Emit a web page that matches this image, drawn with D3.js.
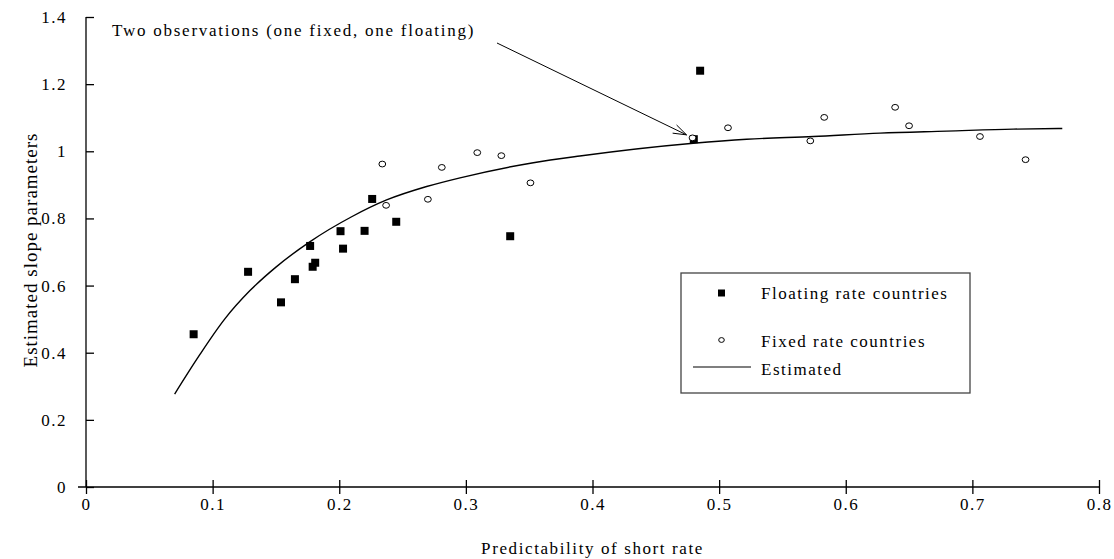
<!DOCTYPE html>
<html>
<head>
<meta charset="utf-8">
<script src="https://cdn.jsdelivr.net/npm/d3@7"></script>
<style>
  html, body { margin: 0; padding: 0; background: #fff; overflow: hidden; }
  svg { display: block; }
  svg text { font-family: "Liberation Serif", "Times New Roman", serif; fill: #000; }
</style>
</head>
<body>
<div id="chart"></div>
<script>
// Données
const floatingX = [0.085, 0.128, 0.154, 0.165, 0.179, 0.181, 0.177, 0.201, 0.203, 0.220, 0.226, 0.245, 0.335, 0.480, 0.485];
const floatingY = [0.455, 0.641, 0.550, 0.619, 0.656, 0.668, 0.718, 0.762, 0.710, 0.763, 0.858, 0.790, 0.747, 1.036, 1.240];

const fixedX = [0.234, 0.237, 0.270, 0.281, 0.309, 0.328, 0.351, 0.479, 0.507, 0.572, 0.583, 0.639, 0.650, 0.706, 0.742];
const fixedY = [0.962, 0.839, 0.857, 0.952, 0.996, 0.987, 0.906, 1.040, 1.070, 1.031, 1.101, 1.131, 1.076, 1.044, 0.975];

const estX = [0.070, 0.090, 0.1095, 0.1295, 0.150, 0.177, 0.2098, 0.2374, 0.269, 0.2954, 0.3533, 0.390, 0.4796, 0.5217, 0.5744, 0.627, 0.6797, 0.7323, 0.771];
const estY = [0.277, 0.395, 0.500, 0.585, 0.655, 0.731, 0.805, 0.855, 0.895, 0.921, 0.966, 0.986, 1.024, 1.036, 1.044, 1.054, 1.060, 1.066, 1.068];

const xTicks = [0, 0.1, 0.2, 0.3, 0.4, 0.5, 0.6, 0.7, 0.8];
const yTicks = [0, 0.2, 0.4, 0.6, 0.8, 1, 1.2, 1.4];

const legendLabels = ['Floating rate countries', 'Fixed rate countries', 'Estimated'];
const annotationText = 'Two observations (one fixed, one floating)';
const annotationTarget = [0.479, 1.040];

const width = 1114;
const height = 559;
const margin = { top: 17, right: 15, bottom: 72, left: 86 };
const innerWidth = width - margin.left - margin.right;
const innerHeight = height - margin.top - margin.bottom;

const svg = d3.select('#chart')
    .append('svg')
    .attr('width', width)
    .attr('height', height);

const g = svg.append('g')
    .attr('transform', `translate(${margin.left},${margin.top})`);

// Échelles
const xScale = d3.scaleLinear().domain([0, 0.8]).range([0, innerWidth]);
const yScale = d3.scaleLinear().domain([0, 1.4]).range([innerHeight, 0]);

// Axes (ticks qui traversent l'axe)
const xAxis = d3.axisBottom(xScale)
    .tickValues(xTicks)
    .tickSize(7)
    .tickPadding(4)
    .tickFormat(d => d === 0 ? '0' : d3.format('.1f')(d));

const yAxis = d3.axisLeft(yScale)
    .tickValues(yTicks)
    .tickSize(8)
    .tickPadding(11)
    .tickFormat(d => (d === 0 || d === 1) ? String(d) : d3.format('.1f')(d));

const gx = g.append('g')
    .attr('transform', `translate(0,${innerHeight})`)
    .call(xAxis);
gx.selectAll('.tick line').attr('y1', -7);
gx.select('.domain').attr('d', `M${-8},0H${innerWidth}`);

const gy = g.append('g').call(yAxis);
gy.selectAll('.tick line').attr('x2', 8);
gy.select('.domain').attr('d', `M0,0V${innerHeight}`);

g.selectAll('.domain, .tick line')
    .style('stroke', '#000')
    .style('stroke-width', 1.3);

g.selectAll('.tick text')
    .style('font-size', '17px')
    .style('letter-spacing', '1.5px')
    .style('font-family', '"Liberation Serif", serif');

// Titres des axes
svg.append('text')
    .attr('x', margin.left + innerWidth / 2)
    .attr('y', 554)
    .attr('text-anchor', 'middle')
    .style('font-size', '17px')
    .style('letter-spacing', '1.6px')
    .text('Predictability of short rate');

svg.append('text')
    .attr('transform', `translate(30,250) rotate(-90)`)
    .attr('text-anchor', 'middle')
    .attr('dy', '0.35em')
    .style('font-size', '19px')
    .style('letter-spacing', '1px')
    .text('Estimated slope parameters');

// Courbe estimée
const estData = estX.map((x, i) => ({ x, y: estY[i] }));
const line = d3.line()
    .x(d => xScale(d.x))
    .y(d => yScale(d.y))
    .curve(d3.curveMonotoneX);

g.append('path')
    .datum(estData)
    .attr('d', line)
    .attr('fill', 'none')
    .attr('stroke', '#000')
    .attr('stroke-width', 1.4);

// Points flottants (carrés noirs)
const floatingData = floatingX.map((x, i) => ({ x, y: floatingY[i] }));
g.selectAll('.floating')
    .data(floatingData)
    .enter()
    .append('rect')
    .attr('class', 'floating')
    .attr('x', d => xScale(d.x) - 4)
    .attr('y', d => yScale(d.y) - 4)
    .attr('width', 8)
    .attr('height', 8)
    .attr('fill', '#000');

// Points fixes (cercles vides)
const fixedData = fixedX.map((x, i) => ({ x, y: fixedY[i] }));
g.selectAll('.fixed')
    .data(fixedData)
    .enter()
    .append('ellipse')
    .attr('class', 'fixed')
    .attr('cx', d => xScale(d.x))
    .attr('cy', d => yScale(d.y))
    .attr('rx', 3.4)
    .attr('ry', 2.9)
    .attr('fill', '#fff')
    .attr('stroke', '#000')
    .attr('stroke-width', 1);

// Annotation avec flèche
svg.append('text')
    .attr('x', 112)
    .attr('y', 36)
    .style('font-size', '17px')
    .style('letter-spacing', '1.75px')
    .text(annotationText);

const ax0 = 497, ay0 = 43;
const ax1 = margin.left + xScale(annotationTarget[0]) - 6;
const ay1 = margin.top + yScale(annotationTarget[1]) - 3;
svg.append('line')
    .attr('x1', ax0).attr('y1', ay0)
    .attr('x2', ax1).attr('y2', ay1)
    .attr('stroke', '#000')
    .attr('stroke-width', 1);

const ang = Math.atan2(ay1 - ay0, ax1 - ax0);
const headLen = 14, headAng = 0.33;
svg.append('path')
    .attr('d', `M${ax1 - headLen * Math.cos(ang - headAng)},${ay1 - headLen * Math.sin(ang - headAng)}L${ax1},${ay1}L${ax1 - headLen * Math.cos(ang + headAng)},${ay1 - headLen * Math.sin(ang + headAng)}`)
    .attr('fill', 'none')
    .attr('stroke', '#000')
    .attr('stroke-width', 1);

// Légende
const legend = svg.append('g').attr('transform', 'translate(681,273)');
legend.append('rect')
    .attr('width', 289)
    .attr('height', 120)
    .attr('fill', '#fff')
    .attr('stroke', '#444')
    .attr('stroke-width', 1.3);

const rowY = [20, 68, 96];
legend.append('rect')
    .attr('x', 37).attr('y', rowY[0] - 3.5)
    .attr('width', 7).attr('height', 7)
    .attr('fill', '#000');
legend.append('ellipse')
    .attr('cx', 40.5).attr('cy', rowY[1] - 1)
    .attr('rx', 2.8).attr('ry', 2.4)
    .attr('fill', '#fff')
    .attr('stroke', '#000');
legend.append('line')
    .attr('x1', 12).attr('x2', 70)
    .attr('y1', rowY[2] - 2).attr('y2', rowY[2] - 2)
    .attr('stroke', '#000')
    .attr('stroke-width', 1.2);

legend.selectAll('.legend-label')
    .data(legendLabels)
    .enter()
    .append('text')
    .attr('class', 'legend-label')
    .attr('x', 80)
    .attr('y', (d, i) => rowY[i])
    .attr('dy', '0.35em')
    .style('font-size', '17px')
    .style('letter-spacing', '1.5px')
    .text(d => d);
</script>
</body>
</html>
